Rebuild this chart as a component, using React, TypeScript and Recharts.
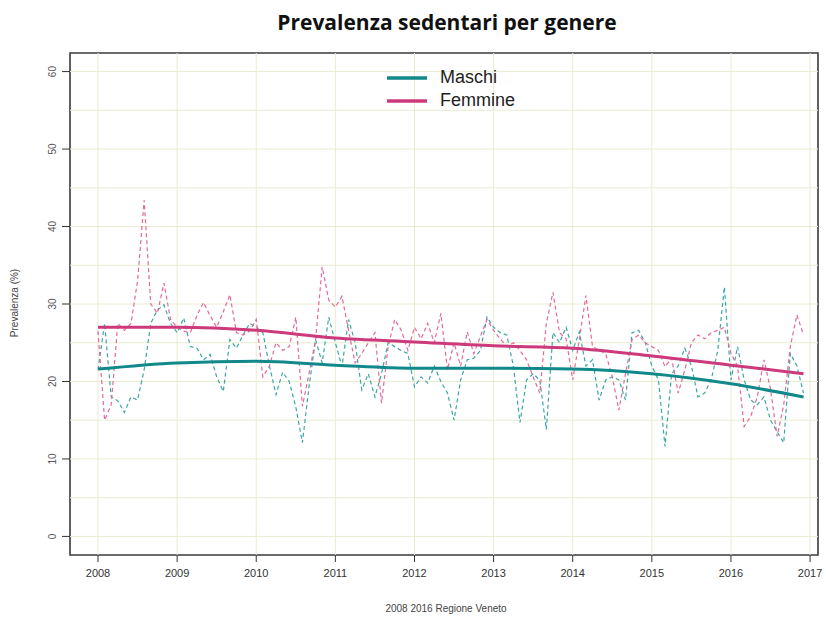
import React from "react";
import {
  ComposedChart,
  Line,
  XAxis,
  YAxis,
  ReferenceLine,
  ReferenceArea,
} from "recharts";

const yearTicks = [2008, 2009, 2010, 2011, 2012, 2013, 2014, 2015, 2016, 2017];
const valueTicks = [0, 10, 20, 30, 40, 50, 60];
const gridValues = [0, 5, 10, 15, 20, 25, 30, 35, 40, 45, 50, 55, 60];

// monthly prevalence, Jan 2008 .. Dec 2016
const maschiMensile = [
  21.5, 27.5, 18, 17.5, 16, 18, 17.6, 21.5, 27.5, 29.2, 29.9, 27.5,
  26.3, 28.2, 24.5, 24.3, 22.8, 23.5, 20.6, 18.7, 25.4, 24.3, 26, 27.5,
  27, 26.3, 22, 18.3, 21.2, 20, 16.7, 12.1, 19.3, 25.4, 22.4, 28.3,
  25, 21.9, 28, 25, 18.9, 21, 18, 21, 25, 24.5, 24, 23.6,
  19.3, 20.6, 19.8, 22, 20, 18.5, 15, 20.2, 22.8, 23, 24, 28.3,
  27, 26.3, 26, 22, 14.7, 20.2, 21, 20.2, 13.8, 26.3, 25, 27,
  24, 26.4, 22, 22.8, 17.6, 20.2, 20.6, 20.2, 17.6, 26.3, 26.6, 25,
  22, 20.2, 11.6, 21, 22, 24.3, 22, 18, 18.5, 20.2, 24, 32.2,
  20.2, 24.5, 20.2, 17.6, 17, 18, 15, 13.5, 12.1, 23.6, 22, 18.5,
];
const femmineMensile = [
  26.5, 15, 17, 27.5, 26.6, 27.5, 33, 43.4, 30, 28.8, 32.7, 28,
  27, 26.5, 26.3, 28.5, 30.2, 28.5, 27, 29, 31.2, 26.3, 26, 26.5,
  28, 20.6, 22, 25, 24, 24.5, 28.3, 16.8, 21, 25.4, 34.8, 30.5,
  29.6, 31, 26.6, 22.4, 23.6, 25, 26.3, 17.2, 24.5, 28, 26.6, 24,
  27, 25.5, 27.5, 25, 28.8, 21.5, 25, 22, 26.4, 23.6, 25.8, 28,
  26.6, 25.5, 24.5, 25, 24, 22.8, 20.6, 18.5, 27.5, 31.5, 26.3, 25.5,
  20.2, 25.4, 31.1, 24.5, 24, 23.6, 20.6, 16.3, 21, 25.4, 26, 25,
  24.5, 24, 21.9, 23, 18.5, 21.5, 25, 26, 25.5, 26.3, 26.6, 27,
  23.6, 22, 14.2, 15.5, 18, 22.8, 19, 12.9, 17, 24.5, 28.6, 26,
];

// smoothed trend read at yearly knots
const trendAnni = [2008, 2009, 2010, 2011, 2012, 2013, 2014, 2015, 2016, 2016.917];
const maschiTrend = [21.6, 22.4, 22.6, 22.1, 21.7, 21.7, 21.6, 21.0, 19.7, 18.0];
const femmineTrend = [27.0, 27.0, 26.6, 25.6, 25.1, 24.6, 24.3, 23.3, 22.1, 21.0];

const monthly = maschiMensile.map((v, i) => ({
  t: 2008 + i / 12,
  maschi: v,
  femmine: femmineMensile[i],
}));
const maschiTrendData = trendAnni.map((t, i) => ({ t, v: maschiTrend[i] }));
const femmineTrendData = trendAnni.map((t, i) => ({ t, v: femmineTrend[i] }));

const TEAL = "#11898a";
const TEAL_LIGHT = "#3aa7a3";
const PINK = "#cc3a7c";
const PINK_LIGHT = "#e2699f";
const GRID = "#e9ecd2";

const X_DOMAIN: [number, number] = [2007.646, 2017.1];
const Y_DOMAIN: [number, number] = [-2.4, 62.4];

const YTick = (props: any) => {
  const { x, y, payload } = props;
  return (
    <text
      x={x - 4}
      y={y}
      transform={`rotate(-90 ${x - 4} ${y})`}
      textAnchor="middle"
      fontSize={10}
      fontFamily="Liberation Sans, Arial, sans-serif"
      fill="#555"
    >
      {payload.value}
    </text>
  );
};

const XTick = (props: any) => {
  const { x, y, payload } = props;
  return (
    <text
      x={x}
      y={y + 13}
      textAnchor="middle"
      fontSize={11}
      fontFamily="Liberation Sans, Arial, sans-serif"
      fill="#333"
    >
      {payload.value}
    </text>
  );
};

const legendItems = [
  { name: "Maschi", color: TEAL },
  { name: "Femmine", color: PINK },
];

export default function App() {
  return (
    <div
      style={{
        position: "absolute",
        left: 0,
        top: 0,
        width: 826,
        height: 619,
        background: "#fff",
      }}
    >
      <ComposedChart
        width={826}
        height={619}
        margin={{ top: 53, right: 8, bottom: 0, left: 0 }}
        data={monthly}
        style={{ position: "absolute", left: 0, top: 0 }}
      >
        <XAxis
          dataKey="t"
          type="number"
          domain={X_DOMAIN}
          ticks={yearTicks}
          allowDataOverflow
          height={64}
          tickSize={7}
          tickLine={{ stroke: "#333" }}
          axisLine={false}
          tick={<XTick />}
          interval={0}
        />
        <YAxis
          type="number"
          domain={Y_DOMAIN}
          ticks={valueTicks}
          allowDataOverflow
          width={70}
          tickSize={8}
          tickLine={{ stroke: "#333" }}
          axisLine={false}
          tick={<YTick />}
          interval={0}
        />
        {gridValues.map((g) => (
          <ReferenceLine key={"h" + g} y={g} stroke={GRID} strokeWidth={1} />
        ))}
        {yearTicks.map((yr) => (
          <ReferenceLine key={"v" + yr} x={yr} stroke={GRID} strokeWidth={1} />
        ))}
        <ReferenceArea
          x1={X_DOMAIN[0]}
          x2={X_DOMAIN[1]}
          y1={Y_DOMAIN[0]}
          y2={Y_DOMAIN[1]}
          fill="none"
          stroke="#3a3a3a"
          strokeWidth={1.6}
          fillOpacity={0}
        />
        <Line
          dataKey="maschi"
          type="linear"
          stroke={TEAL_LIGHT}
          strokeWidth={1.2}
          strokeDasharray="4 3"
          dot={false}
          isAnimationActive={false}
        />
        <Line
          dataKey="femmine"
          type="linear"
          stroke={PINK_LIGHT}
          strokeWidth={1.2}
          strokeDasharray="4 3"
          dot={false}
          isAnimationActive={false}
        />
        <Line
          data={maschiTrendData}
          dataKey="v"
          name="Maschi"
          type="monotone"
          stroke={TEAL}
          strokeWidth={3}
          dot={false}
          isAnimationActive={false}
        />
        <Line
          data={femmineTrendData}
          dataKey="v"
          name="Femmine"
          type="monotone"
          stroke={PINK}
          strokeWidth={3}
          dot={false}
          isAnimationActive={false}
        />
      </ComposedChart>
      <div
        style={{
          position: "absolute",
          left: 0,
          top: 8,
          width: 894,
          textAlign: "center",
          fontFamily: "Open Sans, sans-serif",
          fontWeight: 700,
          fontSize: 21,
          color: "#111",
        }}
      >
        Prevalenza sedentari per genere
      </div>
      <div
        style={{
          position: "absolute",
          left: 386,
          top: 66,
          fontFamily: "Liberation Sans, Arial, sans-serif",
          fontSize: 18,
          color: "#222",
        }}
      >
        {legendItems.map((e) => (
          <div key={e.name} style={{ display: "flex", alignItems: "center", height: 23 }}>
            <svg width={42} height={6} style={{ marginRight: 12 }}>
              <line x1={1} y1={3} x2={41} y2={3} stroke={e.color} strokeWidth={3.5} />
            </svg>
            <span>{e.name}</span>
          </div>
        ))}
      </div>
      <div
        style={{
          position: "absolute",
          left: 14,
          top: 303,
          transform: "translate(-50%, -50%) rotate(-90deg)",
          fontFamily: "Liberation Sans, Arial, sans-serif",
          fontSize: 10,
          color: "#444",
          whiteSpace: "nowrap",
        }}
      >
        Prevalenza (%)
      </div>
      <div
        style={{
          position: "absolute",
          left: 446,
          top: 608,
          transform: "translate(-50%, -50%)",
          fontFamily: "Liberation Sans, Arial, sans-serif",
          fontSize: 10,
          color: "#444",
          whiteSpace: "nowrap",
        }}
      >
        2008 2016 Regione Veneto
      </div>
    </div>
  );
}
